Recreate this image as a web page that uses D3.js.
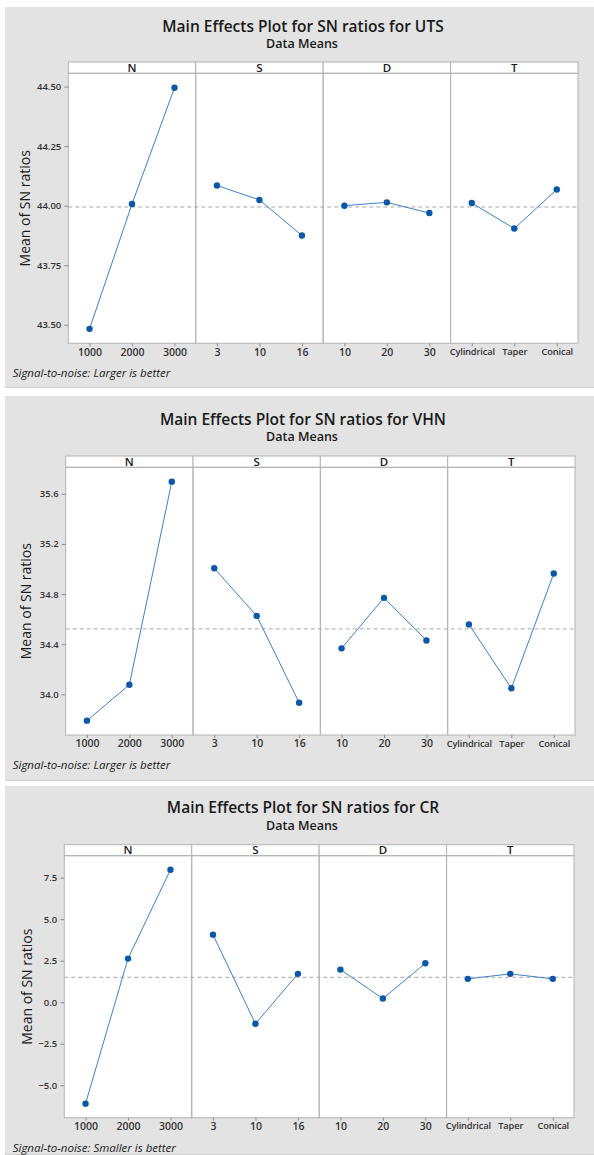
<!DOCTYPE html>
<html>
<head>
<meta charset="utf-8">
<script src="https://cdn.jsdelivr.net/npm/d3@7"></script>
<style>
  html, body { margin: 0; padding: 0; background: #ffffff; }
  svg { display: block; }
  text { font-family: "Open Sans", "Noto Sans", sans-serif; }
</style>
</head>
<body>
<svg id="chart" width="594" height="1155"></svg>
<script>
// Factors and their levels
const factors = ["N", "S", "D", "T"];
const levelsN = ["1000", "2000", "3000"];
const levelsS = ["3", "10", "16"];
const levelsD = ["10", "20", "30"];
const levelsT = ["Cylindrical", "Taper", "Conical"];

// Mean of SN ratios for each factor level — UTS
const utsN = [43.483, 44.007, 44.495];
const utsS = [44.085, 44.024, 43.875];
const utsD = [44.000, 44.014, 43.969];
const utsT = [44.011, 43.904, 44.068];
const utsTicks = [43.50, 43.75, 44.00, 44.25, 44.50];

// Mean of SN ratios for each factor level — VHN
const vhnN = [33.790, 34.077, 35.697];
const vhnS = [35.006, 34.626, 33.933];
const vhnD = [34.367, 34.770, 34.430];
const vhnT = [34.558, 34.048, 34.964];
const vhnTicks = [34.0, 34.4, 34.8, 35.2, 35.6];

// Mean of SN ratios for each factor level — CR
const crN = [-6.106, 2.626, 7.975];
const crS = [4.068, -1.298, 1.707];
const crD = [1.965, 0.222, 2.344];
const crT = [1.406, 1.707, 1.406];
const crTicks = [-5.0, -2.5, 0.0, 2.5, 5.0, 7.5];

const levelSets = [levelsN, levelsS, levelsD, levelsT];

const charts = [
  { title: "Main Effects Plot for SN ratios for UTS", note: "Signal-to-noise: Larger is better",
    series: [utsN, utsS, utsD, utsT], ticks: utsTicks, fmt: d3.format(".2f") },
  { title: "Main Effects Plot for SN ratios for VHN", note: "Signal-to-noise: Larger is better",
    series: [vhnN, vhnS, vhnD, vhnT], ticks: vhnTicks, fmt: d3.format(".1f") },
  { title: "Main Effects Plot for SN ratios for CR", note: "Signal-to-noise: Smaller is better",
    series: [crN, crS, crD, crT], ticks: crTicks, fmt: d3.format(".1f") }
];

// Page layout of each chart block
const layout = [
  { bgTop: 7,   bgBottom: 388,  titleY: 27,  subY: 44,  stripTop: 62,    plotTop: 73.3,  plotBottom: 343.3,  left: 68.3, right: 578, yLabelX: 25 },
  { bgTop: 396, bgBottom: 781,  titleY: 420, subY: 437, stripTop: 456,   plotTop: 467.3, plotBottom: 735,    left: 65.7, right: 575, yLabelX: 26 },
  { bgTop: 786, bgBottom: 1155, titleY: 808, subY: 826, stripTop: 844.7, plotTop: 855.7, plotBottom: 1117.7, left: 64.3, right: 574, yLabelX: 27 }
];

const svg = d3.select("#chart");
const frameColor = "#b3b3b3";
const lineColor = "#3f7fc6";
const dotColor = "#0b57a8";

charts.forEach((c, ci) => {
  const L = layout[ci];
  const g = svg.append("g");

  // background card
  g.append("rect")
    .attr("x", 5).attr("y", L.bgTop)
    .attr("width", 589).attr("height", L.bgBottom - L.bgTop)
    .attr("fill", "#e3e3e3");
  g.append("line")
    .attr("x1", 5).attr("x2", 594)
    .attr("y1", L.bgBottom - 0.5).attr("y2", L.bgBottom - 0.5)
    .attr("stroke", "#cfcfcf").attr("stroke-width", 1);

  // titles
  g.append("text")
    .attr("x", 303).attr("y", L.titleY).attr("dy", "0.35em")
    .attr("text-anchor", "middle")
    .attr("font-size", 15.5).attr("font-weight", 600).attr("fill", "#1a1a1a")
    .text(c.title);
  g.append("text")
    .attr("x", 302).attr("y", L.subY).attr("dy", "0.35em")
    .attr("text-anchor", "middle")
    .attr("font-size", 12.5).attr("font-weight", 600).attr("fill", "#1a1a1a")
    .text("Data Means");

  // scales
  const all = c.series.flat();
  const [lo, hi] = d3.extent(all);
  const pad = (hi - lo) * 0.06;
  const y = d3.scaleLinear().domain([lo - pad, hi + pad]).range([L.plotBottom, L.plotTop]);
  const panel = d3.scaleBand().domain(factors).range([L.left, L.right]).paddingInner(0).paddingOuter(0);
  const grandMean = d3.mean(all);

  // plot area
  g.append("rect")
    .attr("x", L.left).attr("y", L.plotTop)
    .attr("width", L.right - L.left).attr("height", L.plotBottom - L.plotTop)
    .attr("fill", "#ffffff");

  // factor strips
  factors.forEach(f => {
    g.append("rect")
      .attr("x", panel(f)).attr("y", L.stripTop)
      .attr("width", panel.bandwidth()).attr("height", L.plotTop - L.stripTop)
      .attr("fill", "#ffffff").attr("stroke", frameColor).attr("stroke-width", 1);
    g.append("text")
      .attr("x", panel(f) + panel.bandwidth() / 2)
      .attr("y", (L.stripTop + L.plotTop) / 2).attr("dy", "0.36em")
      .attr("text-anchor", "middle")
      .attr("font-size", 11.5).attr("font-weight", 600).attr("fill", "#1a1a1a")
      .text(f);
  });

  // panel frames
  factors.forEach(f => {
    g.append("rect")
      .attr("x", panel(f)).attr("y", L.plotTop)
      .attr("width", panel.bandwidth()).attr("height", L.plotBottom - L.plotTop)
      .attr("fill", "none").attr("stroke", frameColor).attr("stroke-width", 1);
  });

  // grand mean reference line
  g.append("line")
    .attr("x1", L.left).attr("x2", L.right)
    .attr("y1", y(grandMean)).attr("y2", y(grandMean))
    .attr("stroke", "#a8a8a8").attr("stroke-width", 1)
    .attr("stroke-dasharray", "4,3");

  // y axis
  const yAxis = g.append("g")
    .attr("transform", `translate(${L.left},0)`)
    .call(d3.axisLeft(y).tickValues(c.ticks).tickFormat(c.fmt).tickSize(4).tickPadding(3));
  yAxis.select(".domain").remove();
  yAxis.selectAll(".tick line").attr("stroke", "#8a8a8a");
  yAxis.selectAll(".tick text")
    .attr("font-family", "\"Open Sans\", sans-serif")
    .attr("font-size", 9.5).attr("font-weight", 600).attr("fill", "#333333");

  g.append("text")
    .attr("transform", `translate(${L.yLabelX},${(L.plotTop + L.plotBottom) / 2}) rotate(-90)`)
    .attr("dy", "0.35em")
    .attr("text-anchor", "middle")
    .attr("font-size", 14).attr("fill", "#1a1a1a")
    .text("Mean of SN ratios");

  // each factor panel: x axis, connecting line, level markers
  factors.forEach((f, fi) => {
    const x = d3.scalePoint()
      .domain(levelSets[fi])
      .range([panel(f), panel(f) + panel.bandwidth()])
      .padding(0.5);
    const pts = levelSets[fi].map((lv, i) => ({ lv, v: c.series[fi][i] }));

    const xAxis = g.append("g")
      .attr("transform", `translate(0,${L.plotBottom})`)
      .call(d3.axisBottom(x).tickSize(3).tickPadding(2));
    xAxis.select(".domain").remove();
    xAxis.selectAll(".tick line").attr("stroke", "#8a8a8a");
    xAxis.selectAll(".tick text")
      .attr("font-family", "\"Open Sans\", sans-serif")
      .attr("font-size", f === "T" ? 9.3 : 10.5)
      .attr("letter-spacing", f === "T" ? -0.15 : 0)
      .attr("font-weight", 600).attr("fill", "#333333");

    g.append("path")
      .datum(pts)
      .attr("fill", "none").attr("stroke", lineColor).attr("stroke-width", 1)
      .attr("d", d3.line().x(d => x(d.lv)).y(d => y(d.v)));

    g.selectAll(null)
      .data(pts)
      .enter().append("circle")
      .attr("cx", d => x(d.lv)).attr("cy", d => y(d.v))
      .attr("r", 3.2).attr("fill", dotColor);
  });

  // footnote
  g.append("text")
    .attr("x", 12.7).attr("y", L.plotBottom + 30).attr("dy", "0.35em")
    .attr("font-size", 11.5).attr("font-style", "italic").attr("fill", "#1a1a1a")
    .text(c.note);
});
</script>
</body>
</html>
